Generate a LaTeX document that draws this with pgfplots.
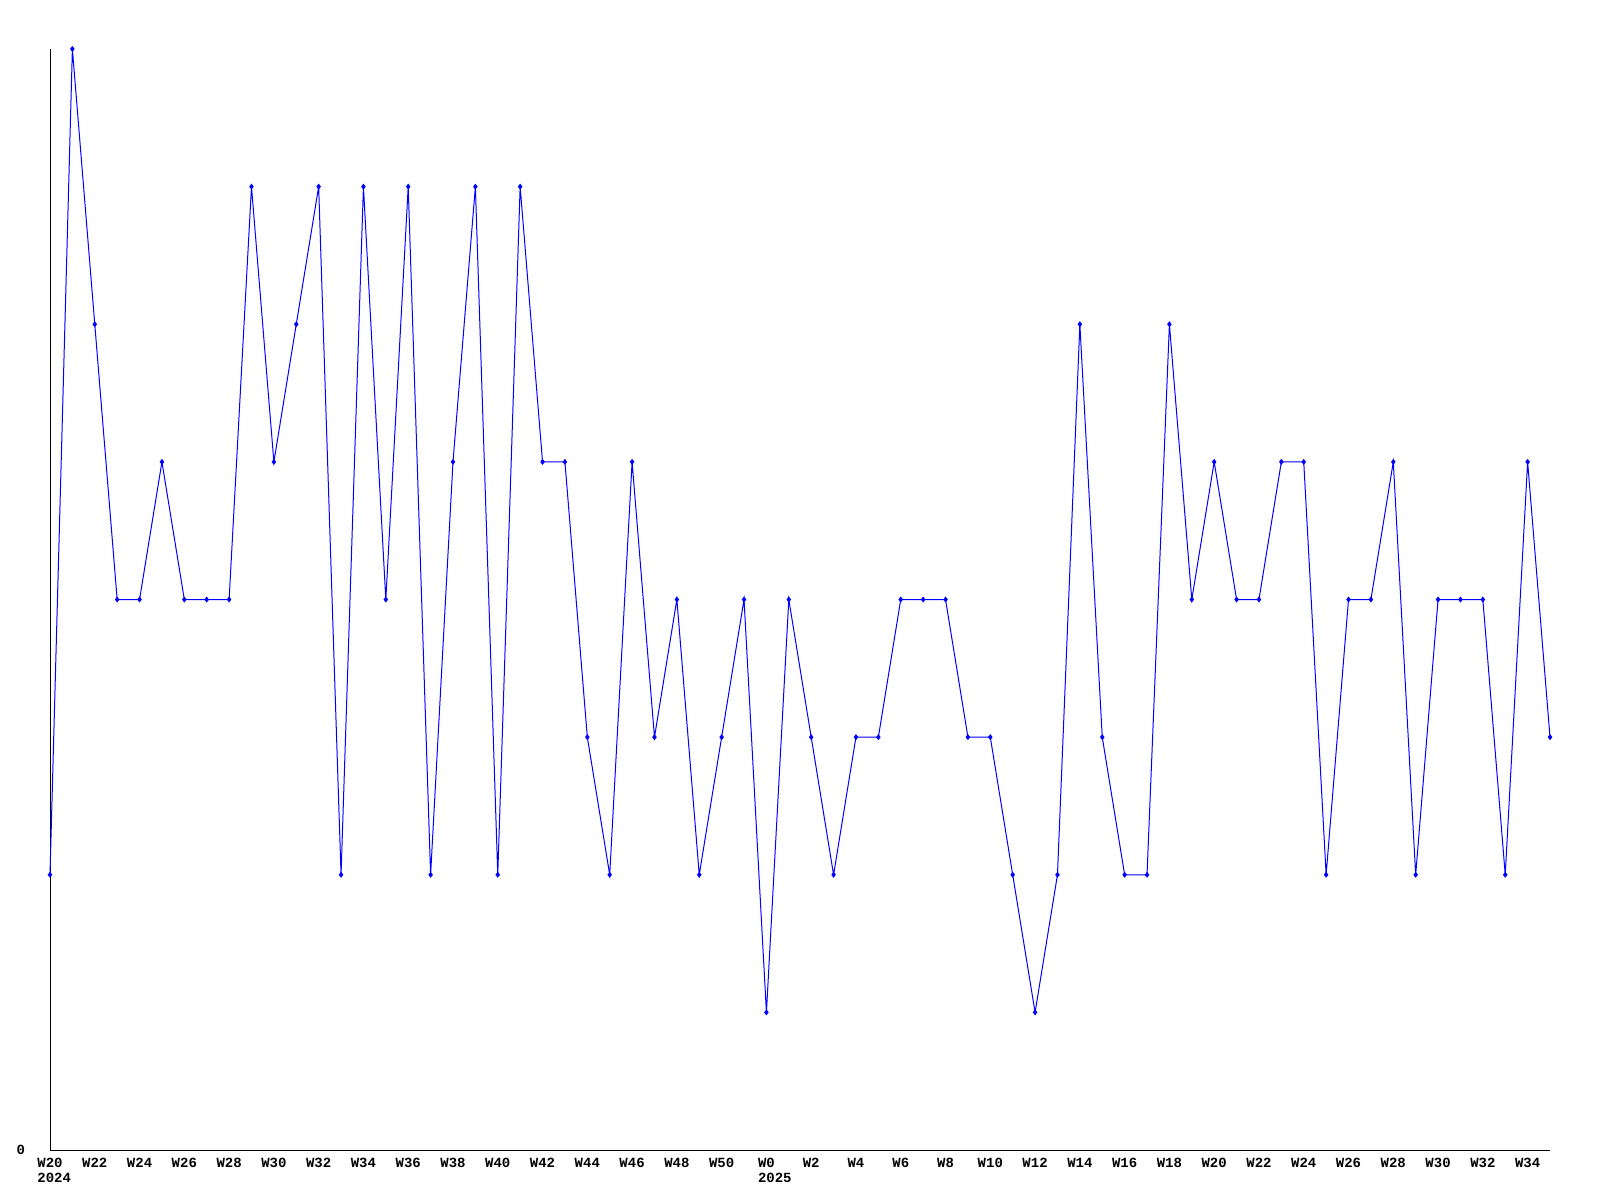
\documentclass[border=0pt]{standalone}
\usepackage{pgfplots}
\pgfplotsset{compat=1.18}
\usepackage{fontspec}
\setmonofont{Liberation Mono}
\begin{document}
\begin{tikzpicture}
\fill[white] (0,0) rectangle (800pt,600pt);
\useasboundingbox (0,0) rectangle (800pt,600pt);
\begin{axis}[
  at={(25pt,25pt)}, anchor=south west,
  scale only axis, width=750pt, height=550.5pt,
  xmin=0, xmax=67, ymin=0, ymax=8,
  axis x line*=bottom, axis y line*=left,
  axis line style={black, line width=0.5pt, -},
  major tick length=0pt,
  clip=false,
  ytick={0}, yticklabels={0},
  yticklabel style={font=\ttfamily\bfseries\fontsize{7}{7.5}\selectfont, xshift=-9pt},
  xtick={0,2,...,66},
  xticklabels={{W20\\\rlap{2024}},W22,W24,W26,W28,W30,W32,W34,W36,W38,W40,W42,W44,W46,W48,W50,{W0\\\rlap{2025}},W2,W4,W6,W8,W10,W12,W14,W16,W18,W20,W22,W24,W26,W28,W30,W32,W34},
  xticklabel style={font=\ttfamily\bfseries\fontsize{7}{7.5}\selectfont, align=left, anchor=north, yshift=-0.5pt},
]
\addplot[color={rgb,255:red,0;green,0;blue,255}, line width=0.5pt, mark=diamond*, mark size=1.1pt] coordinates {
(0,2)(1,8)(2,6)(3,4)(4,4)(5,5)(6,4)(7,4)(8,4)(9,7)(10,5)(11,6)(12,7)(13,2)(14,7)(15,4)(16,7)(17,2)(18,5)(19,7)(20,2)(21,7)(22,5)(23,5)(24,3)(25,2)(26,5)(27,3)(28,4)(29,2)(30,3)(31,4)
(32,1)(33,4)(34,3)(35,2)(36,3)(37,3)(38,4)(39,4)(40,4)(41,3)(42,3)(43,2)(44,1)(45,2)(46,6)(47,3)(48,2)(49,2)(50,6)(51,4)(52,5)(53,4)(54,4)(55,5)(56,5)(57,2)(58,4)(59,4)(60,5)(61,2)(62,4)(63,4)(64,4)(65,2)(66,5)(67,3)
};
\end{axis}
\end{tikzpicture}
\end{document}
